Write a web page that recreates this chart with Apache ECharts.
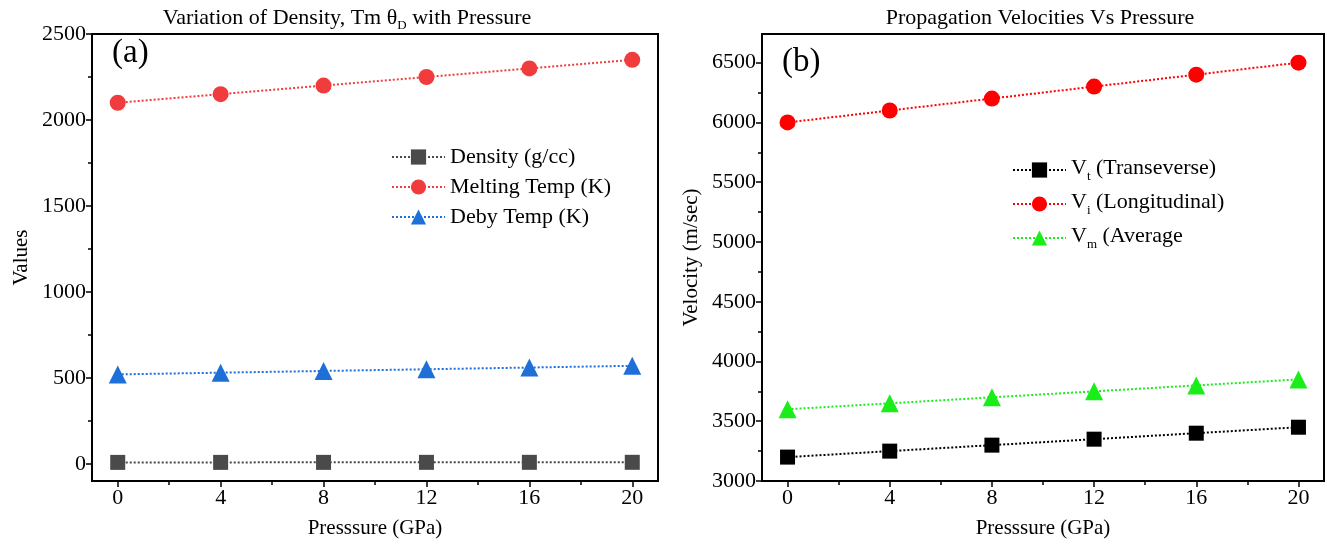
<!DOCTYPE html>
<html><head><meta charset="utf-8">
<script src="https://cdn.jsdelivr.net/npm/echarts@6/dist/echarts.min.js"></script>
<style>html,body{margin:0;padding:0;background:#fff}#c{width:1327px;height:544px}</style>
</head><body><div id="c"></div>
<script>
const pressure = [0, 4, 8, 12, 16, 20];
const density = [8.2, 8.3, 8.4, 8.5, 8.6, 8.7];
const meltingTemp = [2100, 2150, 2200, 2250, 2300, 2350];
const debyeTemp = [520, 530, 540, 550, 560, 570];
const vT = [3200, 3250, 3300, 3350, 3400, 3450];
const vL = [6000, 6100, 6200, 6300, 6400, 6500];
const vM = [3600, 3650, 3700, 3750, 3800, 3850];
const xTicks = [0, 4, 8, 12, 16, 20];
const xMinorTicks = [2, 6, 10, 14, 18];
const yTicksA = [0, 500, 1000, 1500, 2000, 2500];
const yMinorA = [250, 750, 1250, 1750, 2250];
const yTicksB = [3000, 3500, 4000, 4500, 5000, 5500, 6000, 6500];
const yMinorB = [3250, 3750, 4250, 4750, 5250, 5750, 6250];

const FONT = '"Liberation Serif", "Times New Roman", serif';
const pairs = (ys) => pressure.map((p, i) => [p, ys[i]]);

function majorAxis(grid, min, max, ticks, extra) {
  return Object.assign({
    type: 'value', gridIndex: grid, min: min, max: max,
    axisLine: { show: true, onZero: false, lineStyle: { color: '#000', width: 2 } },
    axisTick: { show: true, customValues: ticks, length: 6, lineStyle: { color: '#000', width: 1.5 } },
    axisLabel: { show: true, customValues: ticks, color: '#000', fontSize: 22, fontFamily: FONT, margin: 6,
      formatter: (v) => String(v) },
    splitLine: { show: false },
    nameTextStyle: { color: '#000', fontSize: 21, fontFamily: FONT }
  }, extra || {});
}
function minorAxis(grid, min, max, ticks, pos) {
  return {
    type: 'value', gridIndex: grid, min: min, max: max, position: pos,
    axisLine: { show: false, onZero: false },
    axisTick: { show: true, customValues: ticks, length: 4, lineStyle: { color: '#000', width: 1.5 } },
    axisLabel: { show: false },
    splitLine: { show: false }
  };
}

const subRich = {
  n: { fontSize: 22, fontFamily: FONT, color: '#000', lineHeight: 26, verticalAlign: 'top' },
  s: { fontSize: 13, fontFamily: FONT, color: '#000', lineHeight: 13, verticalAlign: 'bottom' }
};
const legendLabels = {
  'Vt (Transeverse)': '{n|V}{s|t}{n| (Transeverse)}',
  'Vi (Longitudinal)': '{n|V}{s|i}{n| (Longitudinal)}',
  'Vm (Average': '{n|V}{s|m}{n| (Average}'
};

function line(name, xi, data, color, symbol, size) {
  return {
    name: name, type: 'line', xAxisIndex: xi, yAxisIndex: xi, data: data,
    symbol: symbol, symbolSize: size,
    itemStyle: { color: color },
    lineStyle: { color: color, type: 'dotted', width: 2 },
    emphasis: { disabled: true }, animation: false
  };
}

const option = {
  animation: false,
  backgroundColor: '#fff',
  title: [
    { text: 'Variation of Density, Tm θ{s|D} with Pressure', left: 342, top: 0, textAlign: 'center',
      textStyle: { fontSize: 22, fontWeight: 'normal', fontFamily: FONT, color: '#000', lineHeight: 27,
        rich: { s: { fontSize: 13, fontFamily: FONT, color: '#000', lineHeight: 13, verticalAlign: 'bottom' } } } },
    { text: 'Propagation Velocities Vs Pressure', left: 1035, top: 2, textAlign: 'center',
      textStyle: { fontSize: 22, fontWeight: 'normal', fontFamily: FONT, color: '#000' } }
  ],
  grid: [
    { left: 92, top: 34, width: 566, height: 456, show: true, borderColor: '#000', borderWidth: 2, backgroundColor: 'transparent' },
    { left: 762, top: 34, width: 562, height: 456, show: true, borderColor: '#000', borderWidth: 2, backgroundColor: 'transparent' }
  ],
  xAxis: [
    majorAxis(0, -1, 21, xTicks, { name: 'Presssure (GPa)', nameLocation: 'middle', nameGap: 37 }),
    minorAxis(0, -1, 21, xMinorTicks, 'bottom'),
    majorAxis(1, -1, 21, xTicks, { name: 'Presssure (GPa)', nameLocation: 'middle', nameGap: 37 }),
    minorAxis(1, -1, 21, xMinorTicks, 'bottom')
  ],
  yAxis: [
    majorAxis(0, -100, 2500, yTicksA, { name: 'Values', nameLocation: 'middle', nameGap: 60, nameRotate: 90 }),
    minorAxis(0, -100, 2500, yMinorA, 'left'),
    majorAxis(1, 3000, 6740, yTicksB, { name: 'Velocity (m/sec)', nameLocation: 'middle', nameGap: 60, nameRotate: 90 }),
    minorAxis(1, 3000, 6740, yMinorB, 'left')
  ],
  legend: [
    { data: ['Density (g/cc)', 'Melting Temp (K)', 'Deby Temp (K)'], orient: 'vertical', left: 386, top: 141,
      itemWidth: 53, itemHeight: 19, itemGap: 8,
      textStyle: { fontSize: 22, lineHeight: 22, fontFamily: FONT, color: '#000' } },
    { data: ['Vt (Transeverse)', 'Vi (Longitudinal)', 'Vm (Average'], orient: 'vertical', left: 1007, top: 152,
      itemWidth: 53, itemHeight: 19, itemGap: 8,
      formatter: (n) => legendLabels[n] || n,
      textStyle: { fontSize: 22, fontFamily: FONT, color: '#000', rich: subRich } }
  ],
  graphic: [
    { type: 'text', left: 112, top: 37, style: { text: '(a)', font: '33px ' + FONT, fill: '#000' } },
    { type: 'text', left: 782, top: 46, style: { text: '(b)', font: '33px ' + FONT, fill: '#000' } }
  ],
  series: [
    line('Density (g/cc)', 0, pairs(density), '#4a4a4a', 'rect', 15),
    line('Melting Temp (K)', 0, pairs(meltingTemp), '#f03c3c', 'circle', 16),
    line('Deby Temp (K)', 0, pairs(debyeTemp), '#1f6fd8', 'triangle', 18),
    line('Vt (Transeverse)', 2, pairs(vT), '#000000', 'rect', 15),
    line('Vi (Longitudinal)', 2, pairs(vL), '#ff0000', 'circle', 16),
    line('Vm (Average', 2, pairs(vM), '#1aee1a', 'triangle', 18)
  ]
};
const chart = echarts.init(document.getElementById('c'), null, { renderer: 'canvas' });
chart.setOption(option);
</script>
</body></html>
